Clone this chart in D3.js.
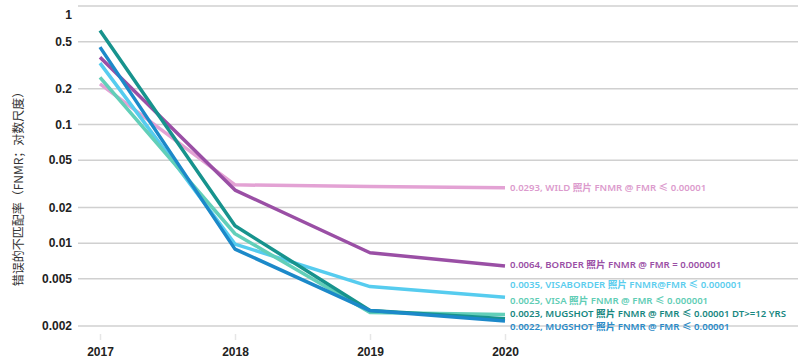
<!DOCTYPE html>
<html>
<head>
<meta charset="utf-8">
<script src="https://cdn.jsdelivr.net/npm/d3@7"></script>
<style>
  body { margin: 0; background: #fff; }
  svg { display: block; }
</style>
</head>
<body>
<div id="chart"></div>
<script>
// data
const years = ["2017", "2018", "2019", "2020"];
const yTicks = [1, 0.5, 0.2, 0.1, 0.05, 0.02, 0.01, 0.005, 0.002];
const yTickLabels = ["1", "0.5", "0.2", "0.1", "0.05", "0.02", "0.01", "0.005", "0.002"];

const wild = [0.22, 0.031, 0.030, 0.0293];
const border = [0.37, 0.028, 0.0083, 0.0064];
const visaborder = [0.33, 0.0098, 0.0043, 0.0035];
const visa = [0.25, 0.012, 0.0026, 0.0025];
const mugshotDT = [0.62, 0.014, 0.0027, 0.0023];
const mugshot = [0.45, 0.0089, 0.0027, 0.0022];

const seriesNames = [
  "0.0293, WILD 照片 FNMR @ FMR ≤ 0.00001",
  "0.0064, BORDER 照片 FNMR @ FMR = 0.000001",
  "0.0035, VISABORDER 照片 FNMR@FMR ≤ 0.000001",
  "0.0025, VISA 照片 FNMR @ FMR ≤ 0.000001",
  "0.0023, MUGSHOT 照片 FNMR @ FMR ≤ 0.00001 DT>=12 YRS",
  "0.0022, MUGSHOT 照片 FNMR @ FMR ≤ 0.00001"
];
const seriesValues = [wild, border, visaborder, visa, mugshotDT, mugshot];

// styles
const lineColors = ["#e3a2d4", "#9a4fa5", "#56ccef", "#62cfb9", "#17938d", "#1c89c9"];
const labelColors = ["#dc9bcd", "#9a4fa5", "#5bcdee", "#5fcdb5", "#17877f", "#2a8bc8"];
const labelNudge = [0, -1, -13, -13.5, -5, 6];

const width = 800, height = 363;

const svg = d3.select("#chart").append("svg")
  .attr("width", width)
  .attr("height", height);

const x = d3.scalePoint().domain(years).range([100, 505]);
const y = d3.scaleLog().domain([0.002, 1]).range([326, 6]);

// gridlines
svg.append("g")
  .selectAll("line")
  .data(yTicks)
  .enter()
  .append("line")
  .attr("x1", 78)
  .attr("x2", 798)
  .attr("y1", d => y(d))
  .attr("y2", d => y(d))
  .attr("stroke", "#d0d0d0")
  .attr("stroke-width", 1.5);

// y tick labels
svg.append("g")
  .selectAll("text")
  .data(yTicks)
  .enter()
  .append("text")
  .attr("x", 72)
  .attr("y", (d, i) => y(d) + (i === 0 ? 9 : 0))
  .attr("dy", "0.35em")
  .attr("text-anchor", "end")
  .attr("font-family", "Liberation Sans, Arial, sans-serif")
  .attr("font-weight", "bold")
  .attr("font-size", 12)
  .attr("fill", "#222")
  .text((d, i) => yTickLabels[i]);

// x axis: small ticks + year labels
const xAxis = d3.axisBottom(x).tickSize(6).tickPadding(7);
const gx = svg.append("g")
  .attr("transform", "translate(0,334)")
  .call(xAxis);
gx.select(".domain").remove();
gx.selectAll(".tick line").attr("stroke", "#e6e6e6").attr("stroke-width", 1.5);
gx.selectAll(".tick text")
  .attr("font-family", "Liberation Sans, Arial, sans-serif")
  .attr("font-weight", "bold")
  .attr("font-size", 12)
  .attr("fill", "#222");

// y title
svg.append("text")
  .attr("transform", "translate(23,186) rotate(-90)")
  .attr("text-anchor", "middle")
  .attr("font-family", "Noto Sans CJK SC, sans-serif")
  .attr("font-size", 12)
  .attr("fill", "#333")
  .text("错误的不匹配率（FNMR；对数尺度）");

// lines
const line = d3.line()
  .x((d, i) => x(years[i]))
  .y(d => y(d));

svg.append("g")
  .selectAll("path")
  .data(seriesValues)
  .enter()
  .append("path")
  .attr("d", d => line(d))
  .attr("fill", "none")
  .attr("stroke", (d, i) => lineColors[i])
  .attr("stroke-width", 3.5)
  .attr("stroke-linejoin", "round");

// end labels
svg.append("g")
  .selectAll("text")
  .data(seriesValues)
  .enter()
  .append("text")
  .attr("x", x("2020") + 5)
  .attr("y", (d, i) => y(d[d.length - 1]) + labelNudge[i])
  .attr("dy", "0.35em")
  .attr("font-family", "Noto Sans, Noto Sans CJK SC, sans-serif")
  .attr("font-weight", 600)
  .attr("font-size", 9.6)
  .attr("fill", (d, i) => labelColors[i])
  .text((d, i) => seriesNames[i]);
</script>
</body>
</html>
